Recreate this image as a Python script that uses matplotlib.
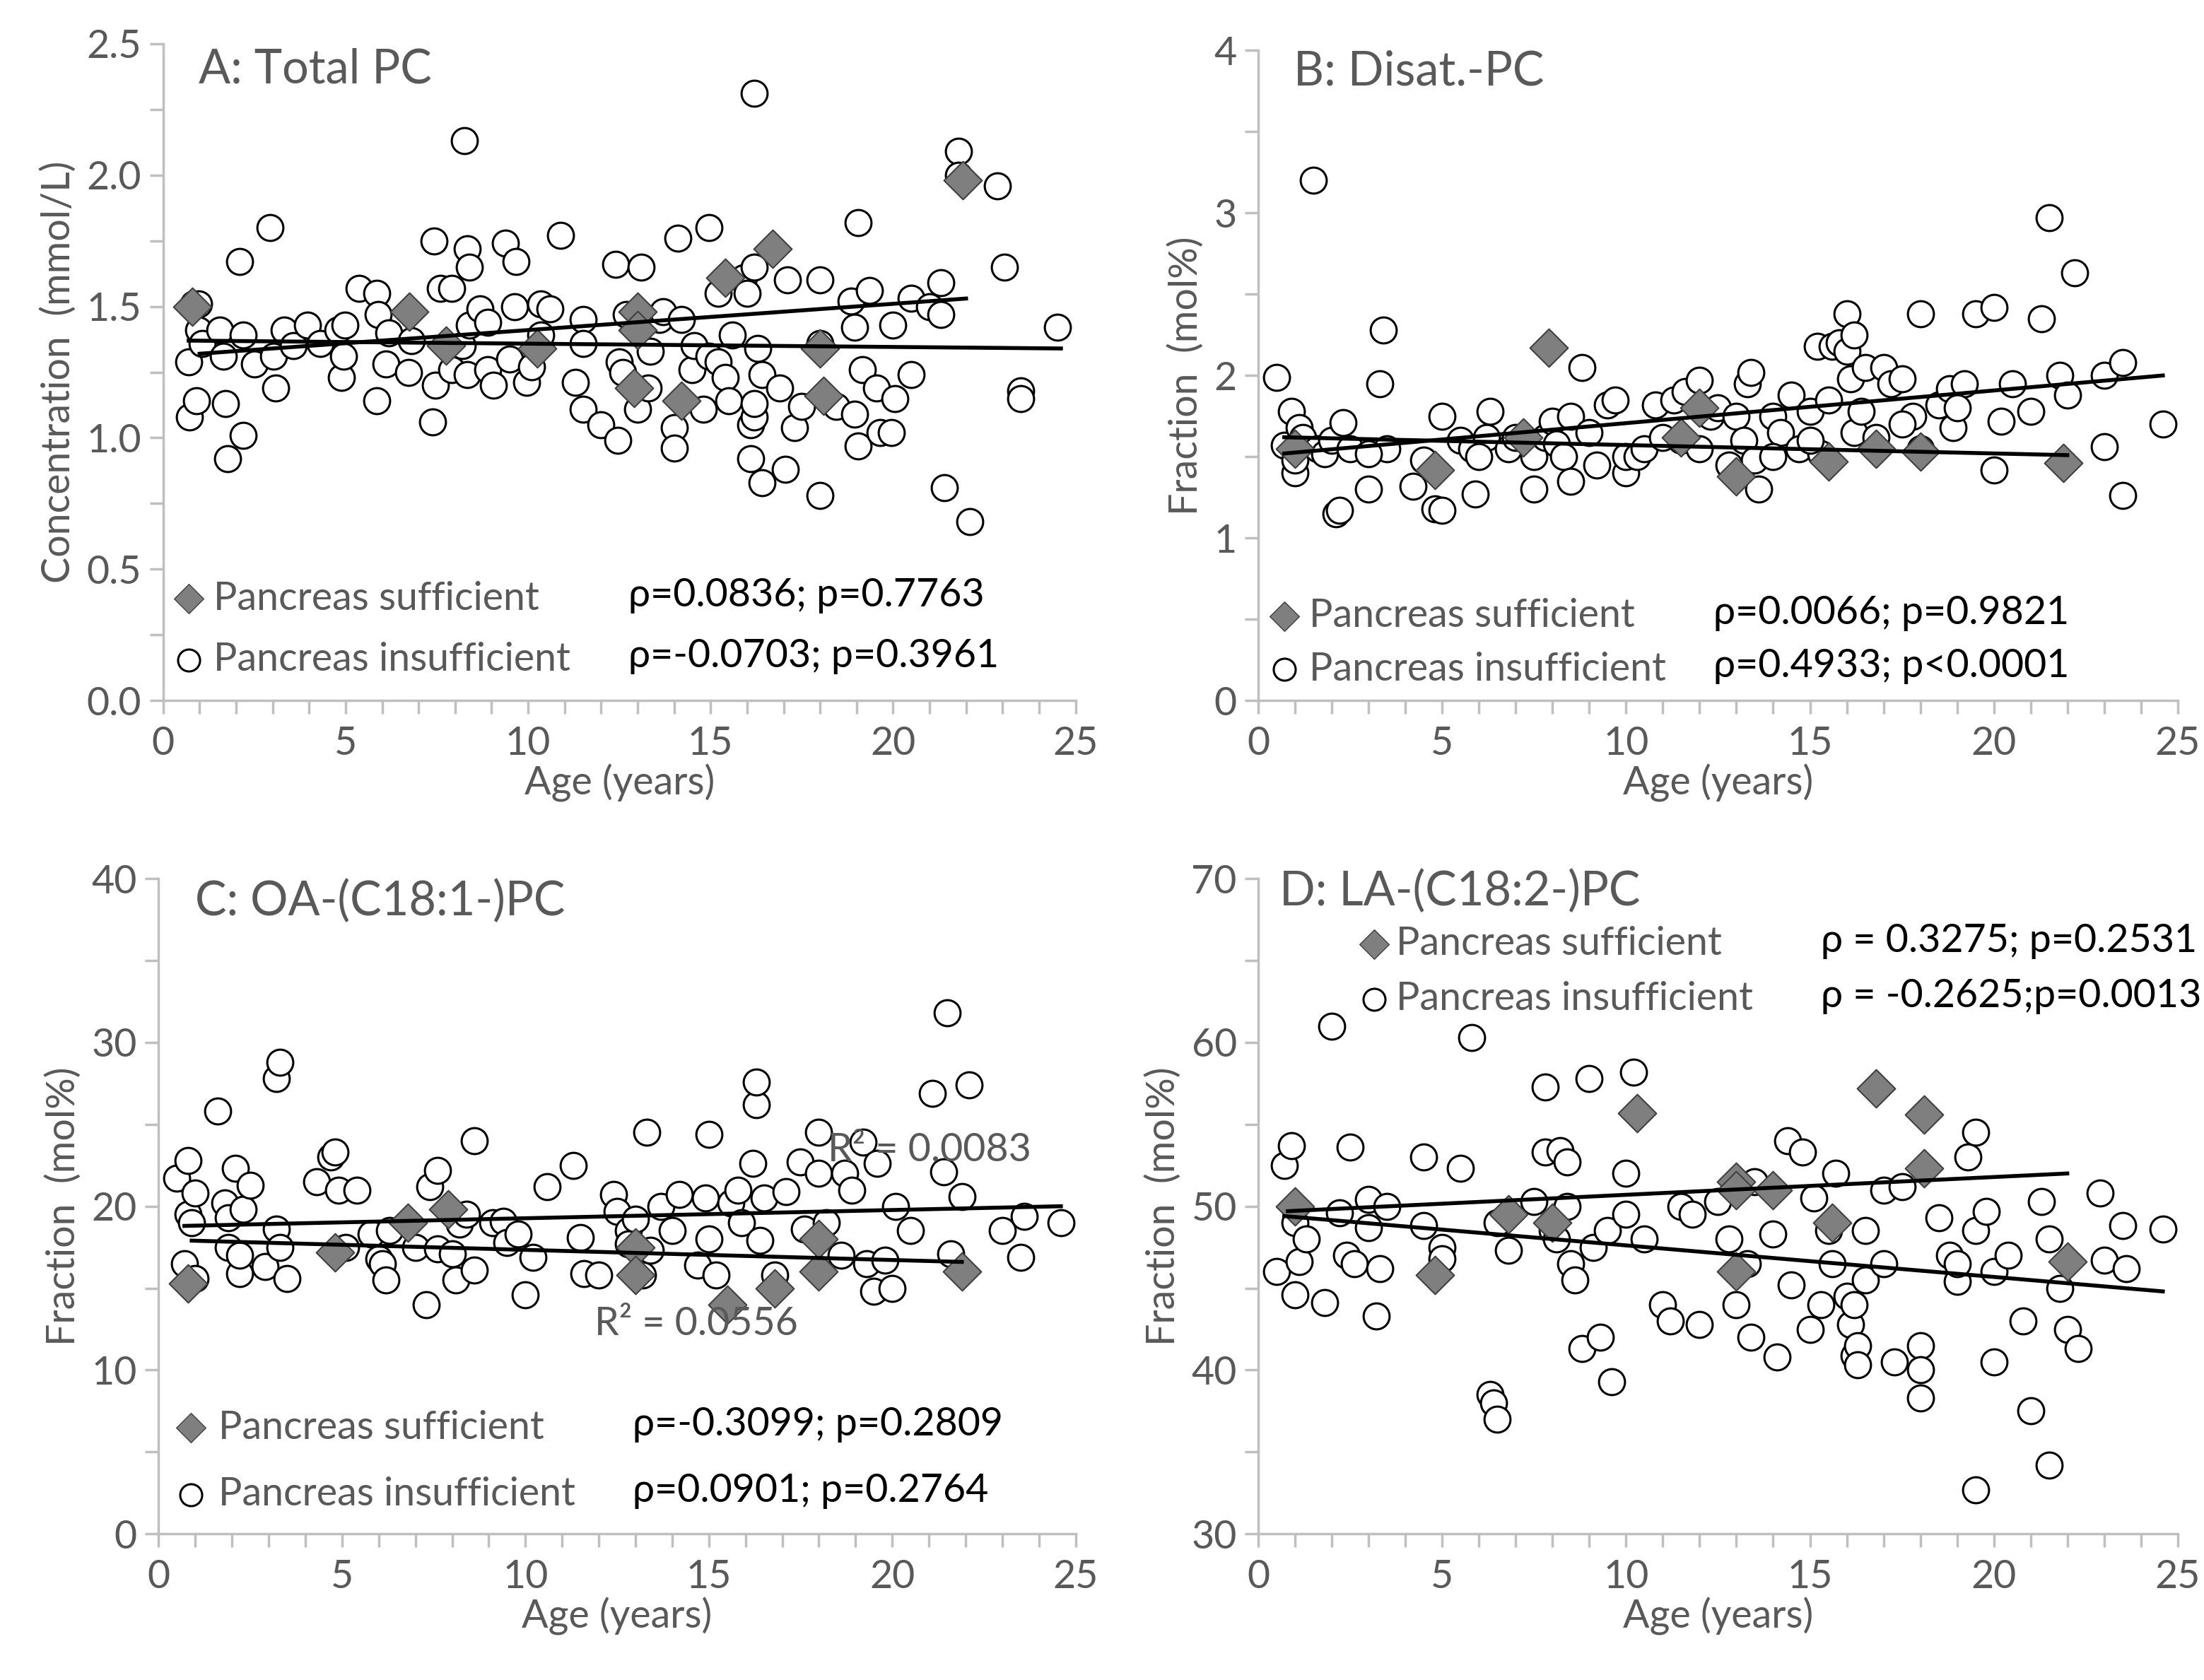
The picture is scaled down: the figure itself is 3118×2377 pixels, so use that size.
import matplotlib
matplotlib.use("Agg")
import matplotlib.pyplot as plt
from matplotlib.ticker import MultipleLocator

plt.rcParams["font.family"] = "Lato"

# ---- data ----
# panel A: total PC (mmol/L)
a_ins_x = [0.73, 0.7, 0.84, 0.98, 0.92, 0.98, 1.07, 1.56, 1.66, 1.7, 1.76, 2.1, 2.2, 2.2, 2.5, 2.93, 3.03, 3.09, 3.32, 3.57,
           3.96, 4.3, 4.79, 4.88, 4.98, 4.94, 5.37, 5.86, 5.9, 5.86, 6.1, 6.18, 6.72, 6.8, 7.42, 7.38, 7.47, 7.6, 7.9, 7.9,
           8.2, 8.25, 8.34, 8.4, 8.4, 8.34, 8.68, 8.89, 8.89, 9.04, 9.37, 9.67, 9.63, 9.5, 9.96, 10.1, 10.35, 10.35, 10.6, 10.88,
           11.3, 11.5, 11.5, 11.5, 12.0, 12.4, 12.45, 12.5, 12.6, 12.7, 13.1, 13.0, 13.3, 13.35, 13.6, 13.7, 14.1, 14.0, 14.0, 14.2,
           14.5, 14.55, 14.8, 14.95, 14.95, 15.2, 15.2, 15.4, 15.5, 15.6, 15.9, 16.0, 16.2, 16.2, 16.1, 16.2, 16.2, 16.1, 16.3, 16.4,
           16.4, 16.9, 17.05, 17.1, 17.3, 17.5, 18.0, 18.0, 18.0, 18.45, 18.85, 18.95, 18.95, 19.05, 19.05, 19.15, 19.35, 19.55, 19.65, 19.95,
           20.0, 20.05, 20.5, 20.5, 21.0, 21.3, 21.3, 21.4, 21.8, 21.8, 22.1, 22.85, 23.05, 23.5, 23.5, 24.5]
a_ins_y = [1.08, 1.29, 1.51, 1.51, 1.14, 1.41, 1.36, 1.41, 1.31, 1.13, 0.92, 1.67, 1.39, 1.01, 1.28, 1.80, 1.31, 1.19, 1.41, 1.35,
           1.43, 1.36, 1.41, 1.23, 1.43, 1.31, 1.57, 1.55, 1.47, 1.14, 1.28, 1.40, 1.25, 1.37, 1.75, 1.06, 1.20, 1.57, 1.57, 1.26,
           1.35, 2.13, 1.72, 1.65, 1.43, 1.24, 1.49, 1.44, 1.26, 1.20, 1.74, 1.67, 1.50, 1.30, 1.21, 1.27, 1.51, 1.39, 1.49, 1.77,
           1.21, 1.45, 1.36, 1.11, 1.05, 1.66, 0.99, 1.29, 1.25, 1.47, 1.65, 1.11, 1.19, 1.33, 1.45, 1.48, 1.76, 1.04, 0.96, 1.45,
           1.26, 1.35, 1.11, 1.80, 1.31, 1.55, 1.29, 1.23, 1.14, 1.39, 1.61, 1.55, 1.65, 2.31, 1.05, 1.08, 1.13, 0.92, 1.34, 1.24,
           0.83, 1.19, 0.88, 1.60, 1.04, 1.12, 1.60, 1.36, 0.78, 1.12, 1.52, 1.42, 1.09, 1.82, 0.97, 1.26, 1.56, 1.19, 1.02, 1.02,
           1.43, 1.15, 1.53, 1.24, 1.50, 1.59, 1.47, 0.81, 2.09, 2.00, 0.68, 1.96, 1.65, 1.18, 1.15, 1.42]
a_suf_x = [0.8, 6.74, 7.75, 10.25, 12.9, 13.0, 13.0, 14.2, 15.4, 16.7, 18.0, 18.1, 21.9]
a_suf_y = [1.50, 1.48, 1.35, 1.34, 1.19, 1.48, 1.41, 1.14, 1.61, 1.72, 1.34, 1.16, 1.98]
a_ins_trend = ([0.7, 24.6], [1.37, 1.34])
a_suf_trend = ([1.0, 22.0], [1.32, 1.53])

# panel B: disaturated PC (mol%)
b_ins = [(0.5, 1.99), (0.7, 1.57), (0.9, 1.78), (1.0, 1.4), (1.0, 1.48), (1.1, 1.68), (1.2, 1.62), (1.5, 3.2), (1.6, 1.55),
         (1.8, 1.52), (2.0, 1.60), (2.1, 1.15), (2.2, 1.17), (2.3, 1.71), (2.5, 1.55), (3.0, 1.3), (3.3, 1.95), (3.4, 2.28),
         (3.5, 1.55), (4.2, 1.32), (4.5, 1.48), (4.8, 1.18), (5.0, 1.17), (5.0, 1.75), (5.5, 1.6), (5.8, 1.55), (5.9, 1.27),
         (6.2, 1.62), (6.3, 1.78), (6.8, 1.55), (7.0, 1.62), (7.5, 1.5), (7.5, 1.3), (7.8, 1.62), (8.0, 1.72), (8.1, 1.58),
         (8.3, 1.5), (8.5, 1.75), (8.5, 1.35), (8.8, 2.05), (9.0, 1.65), (9.5, 1.82), (9.7, 1.85), (10.0, 1.4), (10.0, 1.50),
         (10.3, 1.5), (10.5, 1.55), (10.8, 1.82), (11.3, 1.85), (11.5, 1.6), (11.6, 1.9), (12.0, 1.97), (12.3, 1.75), (12.5, 1.8),
         (12.8, 1.45), (13.0, 1.75), (13.2, 1.6), (13.3, 1.95), (13.4, 2.02), (13.5, 1.48), (13.6, 1.3), (14.0, 1.75), (14.2, 1.65),
         (14.5, 1.88), (14.7, 1.55), (15.0, 1.78), (15.2, 2.18), (15.3, 1.52), (15.5, 1.85), (15.6, 2.18), (15.8, 2.2), (16.0, 2.38),
         (16.0, 2.15), (16.1, 1.98), (16.2, 2.25), (16.2, 1.65), (16.4, 1.78), (16.5, 2.05), (16.8, 1.62), (17.0, 2.05), (17.2, 1.95),
         (17.5, 1.98), (17.8, 1.75), (18.0, 1.55), (18.0, 2.38), (18.5, 1.82), (18.8, 1.92), (18.9, 1.68), (19.2, 1.95), (19.5, 2.38),
         (20.0, 2.42), (20.0, 1.42), (20.2, 1.72), (20.5, 1.95), (21.0, 1.78), (21.3, 2.35), (21.5, 2.97), (21.8, 2.0), (22.0, 1.88),
         (22.2, 2.63), (23.0, 2.0), (23.0, 1.56), (23.5, 2.08), (23.5, 1.26), (24.6, 1.7), (11.0, 1.62), (14.0, 1.5), (17.5, 1.7),
         (19.0, 1.8), (9.2, 1.45), (6.0, 1.5), (3.0, 1.52), (12.0, 1.55), (15.0, 1.6)]
b_suf = [(1.0, 1.55), (4.8, 1.42), (7.2, 1.62), (7.9, 2.17), (11.5, 1.62), (13.0, 1.38), (15.5, 1.47), (16.8, 1.55),
         (18.0, 1.53), (21.9, 1.46), (12.0, 1.8)]
b_ins_trend = ([0.7, 24.6], [1.52, 2.0])
b_suf_trend = ([0.7, 22.0], [1.62, 1.51])

# panel C: OA-PC (mol%)
c_ins = [(0.5, 21.7), (0.7, 16.5), (0.8, 22.8), (0.8, 19.5), (0.9, 19.0), (1.0, 20.8), (1.0, 15.6), (1.6, 25.8), (1.8, 20.2),
         (1.9, 19.3), (1.9, 17.5), (2.1, 22.3), (2.2, 15.9), (2.2, 17.0), (2.3, 19.8), (2.5, 21.3), (2.9, 16.3), (3.2, 18.6),
         (3.2, 27.8), (3.3, 28.8), (3.5, 15.6), (3.3, 17.5), (4.3, 21.5), (4.7, 23.0), (4.8, 23.3), (4.9, 21.0), (5.1, 17.5),
         (5.4, 21.0), (5.8, 18.3), (6.0, 16.8), (6.1, 16.5), (6.2, 15.5), (6.3, 18.5), (7.0, 17.5), (7.3, 14.0), (7.4, 21.2),
         (7.6, 22.2), (7.6, 17.4), (8.0, 17.1), (8.1, 15.5), (8.2, 18.9), (8.6, 24.0), (8.4, 19.5), (8.6, 16.1), (9.1, 19.0),
         (9.4, 19.1), (9.5, 17.8), (9.8, 18.3), (10.0, 14.6), (10.2, 16.9), (10.6, 21.2), (11.3, 22.5), (11.5, 18.1), (11.6, 15.9),
         (12.0, 15.8), (12.4, 20.7), (12.5, 19.7), (12.8, 18.5), (13.0, 19.2), (13.2, 15.8), (13.3, 24.5), (13.4, 17.3), (13.7, 20.0),
         (14.2, 20.7), (14.0, 18.5), (14.7, 16.4), (14.9, 20.5), (15.0, 24.4), (15.2, 15.8), (15.6, 20.2), (15.8, 21.0), (15.9, 19.0),
         (16.2, 22.6), (16.3, 26.2), (16.3, 27.6), (16.5, 20.5), (16.4, 17.9), (16.8, 15.8), (17.1, 20.9), (17.5, 22.7), (17.6, 18.6),
         (18.0, 22.0), (18.0, 24.5), (18.2, 19.0), (18.7, 22.0), (18.9, 21.0), (19.2, 23.9), (19.3, 16.5), (19.5, 14.8), (19.6, 22.6),
         (19.8, 16.7), (20.0, 15.0), (20.1, 20.0), (20.5, 18.5), (21.1, 26.9), (21.5, 31.8), (21.4, 22.1), (21.6, 17.1), (21.9, 20.6),
         (22.1, 27.4), (23.0, 18.5), (23.5, 16.9), (23.6, 19.4), (24.6, 19.0), (12.8, 17.7), (15.0, 18.0), (18.6, 17.0)]
c_suf = [(0.8, 15.3), (4.8, 17.2), (6.8, 19.0), (7.9, 19.8), (13.0, 17.5), (13.0, 15.8), (15.5, 14.0), (16.8, 15.0),
         (18.0, 16.0), (21.9, 16.0), (18.0, 18.0)]
c_ins_trend = ([0.7, 24.6], [18.8, 20.0])
c_suf_trend = ([0.9, 21.9], [17.9, 16.6])

# panel D: LA-PC (mol%)
d_ins = [(0.5, 46.0), (0.7, 52.5), (0.9, 53.7), (1.0, 49.0), (1.0, 44.6), (1.1, 46.6), (1.3, 48.0), (1.8, 44.1), (2.0, 61.0),
         (2.2, 49.6), (2.5, 53.6), (2.4, 47.0), (2.6, 46.5), (3.0, 48.7), (3.0, 50.4), (3.2, 43.3), (3.3, 46.2), (3.5, 50.0),
         (4.5, 53.0), (4.5, 48.8), (5.0, 47.5), (5.0, 46.8), (5.5, 52.3), (5.8, 60.3), (6.3, 38.5), (6.4, 38.0), (6.5, 37.0),
         (6.5, 49.0), (6.8, 47.3), (7.5, 50.3), (7.8, 57.3), (7.8, 53.3), (8.0, 48.5), (8.1, 48.0), (8.2, 53.4), (8.4, 52.7),
         (8.4, 50.0), (8.5, 46.5), (8.6, 45.5), (8.8, 41.3), (9.0, 57.8), (9.1, 47.5), (9.3, 42.0), (9.5, 48.5), (9.6, 39.3),
         (10.0, 52.0), (10.2, 58.2), (10.0, 49.5), (10.5, 48.0), (11.0, 44.0), (11.2, 43.0), (11.5, 50.0), (11.8, 49.5), (12.0, 42.8),
         (12.5, 50.3), (12.8, 48.0), (13.0, 44.0), (13.3, 46.5), (13.4, 42.0), (13.5, 51.5), (14.0, 48.3), (14.1, 40.8), (14.4, 54.0),
         (14.5, 45.2), (14.8, 53.3), (15.0, 42.5), (15.1, 50.5), (15.3, 44.0), (15.5, 48.5), (15.6, 46.5), (15.7, 52.0), (16.0, 44.5),
         (16.1, 42.8), (16.2, 44.0), (16.2, 40.9), (16.3, 41.5), (16.3, 40.3), (16.5, 45.5), (16.5, 48.5), (17.0, 51.0), (17.0, 46.5),
         (17.3, 40.5), (17.5, 51.2), (18.0, 41.5), (18.0, 40.0), (18.0, 38.3), (18.5, 49.3), (18.8, 47.0), (19.0, 45.4), (19.0, 46.5),
         (19.3, 53.0), (19.5, 54.5), (19.5, 48.5), (19.8, 49.7), (20.0, 46.0), (20.0, 40.5), (20.4, 47.0), (21.0, 37.5), (21.3, 50.3),
         (21.5, 48.0), (21.5, 34.2), (21.8, 45.0), (22.0, 42.5), (22.3, 41.3), (22.9, 50.8), (23.0, 46.7), (23.5, 48.8), (23.6, 46.2),
         (24.6, 48.6), (20.8, 43.0), (19.5, 32.7)]
d_suf = [(1.0, 50.0), (4.8, 45.8), (6.8, 49.5), (8.0, 49.0), (10.3, 55.7), (13.0, 46.0), (13.0, 51.5), (14.0, 51.0),
         (15.6, 49.0), (16.8, 57.2), (18.1, 55.6), (18.1, 52.3), (22.0, 46.6), (13.0, 51.0)]
d_ins_trend = ([0.7, 24.6], [49.4, 44.8])
d_suf_trend = ([0.8, 22.0], [49.7, 52.0])

GREY = "#595959"
AXC = "#bfbfbf"
FS = 40

fig = plt.figure(figsize=(31.18, 23.77), dpi=100)


def panel(rect, title, ins, suf, ins_trend, suf_trend, ylim, ystep, yminor, ylabel, yfmt,
          leg_pos, rho_texts, title_pos):
    ax = fig.add_axes(rect)
    ix, iy = ins
    sx, sy = suf
    ax.scatter(ix, iy, s=700, facecolor="white", edgecolor="black", linewidth=2.2, zorder=3)
    ax.scatter(sx, sy, s=750, marker="D", facecolor="#7f7f7f", edgecolor="#404040", linewidth=1.5, zorder=4)
    ax.plot(*ins_trend, color="black", lw=4, zorder=5)
    ax.plot(*suf_trend, color="black", lw=4, zorder=5)
    ax.set_xlim(0, 25)
    ax.set_ylim(*ylim)
    ax.xaxis.set_major_locator(MultipleLocator(5))
    ax.xaxis.set_minor_locator(MultipleLocator(1))
    ax.yaxis.set_major_locator(MultipleLocator(ystep))
    ax.yaxis.set_minor_locator(MultipleLocator(yminor))
    ax.yaxis.set_major_formatter(yfmt)
    for s in ["top", "right"]:
        ax.spines[s].set_visible(False)
    for s in ["left", "bottom"]:
        ax.spines[s].set_color(AXC)
        ax.spines[s].set_linewidth(2.5)
    ax.tick_params(axis="x", which="both", direction="out", length=14, width=2.5, color=AXC,
                   labelsize=FS, labelcolor=GREY, pad=12)
    ax.tick_params(axis="y", which="both", direction="out", length=14, width=2.5, color=AXC,
                   labelsize=FS, labelcolor=GREY, pad=8)
    ax.set_xlabel("Age (years)", fontsize=FS, color=GREY, labelpad=2)
    ax.set_ylabel(ylabel, fontsize=FS, color=GREY, labelpad=10)
    ax.text(title_pos[0], title_pos[1], title, transform=ax.transAxes, fontsize=48, color=GREY,
            va="center", ha="left")
    mx, lx, rx, y1, y2 = leg_pos
    ax.scatter([mx], [y1], s=450, marker="D", facecolor="#7f7f7f", edgecolor="#404040",
               transform=ax.transAxes, clip_on=False, zorder=6)
    ax.scatter([mx], [y2], s=500, facecolor="white", edgecolor="black", linewidth=2.2,
               transform=ax.transAxes, clip_on=False, zorder=6)
    ax.text(lx, y1, "Pancreas sufficient", transform=ax.transAxes, fontsize=40, color=GREY, va="center")
    ax.text(lx, y2, "Pancreas insufficient", transform=ax.transAxes, fontsize=40, color=GREY, va="center")
    ax.text(rx, y1 + 0.005, rho_texts[0], transform=ax.transAxes, fontsize=40, color="black", va="center")
    ax.text(rx, y2 + 0.005, rho_texts[1], transform=ax.transAxes, fontsize=40, color="black", va="center")
    return ax


def split(pts):
    return [p[0] for p in pts], [p[1] for p in pts]


panel([0.074, 0.583, 0.414, 0.391], "A: Total PC", (a_ins_x, a_ins_y), (a_suf_x, a_suf_y),
      a_ins_trend, a_suf_trend, (0, 2.5), 0.5, 0.25, "Concentration  (mmol/L)", "{x:.1f}",
      (0.028, 0.055, 0.51, 0.155, 0.062), ("ρ=0.0836; p=0.7763", "ρ=-0.0703; p=0.3961"), (0.039, 0.96))

panel([0.571, 0.583, 0.417, 0.387], "B: Disat.-PC", split(b_ins), split(b_suf),
      b_ins_trend, b_suf_trend, (0, 4), 1, 0.5, "Fraction  (mol%)", "{x:.0f}",
      (0.028, 0.055, 0.495, 0.13, 0.048), ("ρ=0.0066; p=0.9821", "ρ=0.4933; p<0.0001"), (0.038, 0.967))

axc = panel([0.072, 0.087, 0.416, 0.39], "C: OA-(C18:1-)PC", split(c_ins), split(c_suf),
            c_ins_trend, c_suf_trend, (0, 40), 10, 5, "Fraction  (mol%)", "{x:.0f}",
            (0.035, 0.065, 0.517, 0.162, 0.06), ("ρ=-0.3099; p=0.2809", "ρ=0.0901; p=0.2764"), (0.04, 0.965))
axc.text(0.73, 0.585, "R² = 0.0083", transform=axc.transAxes, fontsize=40, color=GREY, va="center", zorder=7)
axc.text(0.475, 0.32, "R² = 0.0556", transform=axc.transAxes, fontsize=40, color=GREY, va="center", zorder=7)

panel([0.571, 0.087, 0.417, 0.39], "D: LA-(C18:2-)PC", split(d_ins), split(d_suf),
      d_ins_trend, d_suf_trend, (30, 70), 10, 5, "Fraction  (mol%)", "{x:.0f}",
      (0.126, 0.15, 0.612, 0.90, 0.816), ("ρ = 0.3275; p=0.2531", "ρ = -0.2625;p=0.0013"), (0.023, 0.98))

fig.savefig("out.png", dpi=100)
